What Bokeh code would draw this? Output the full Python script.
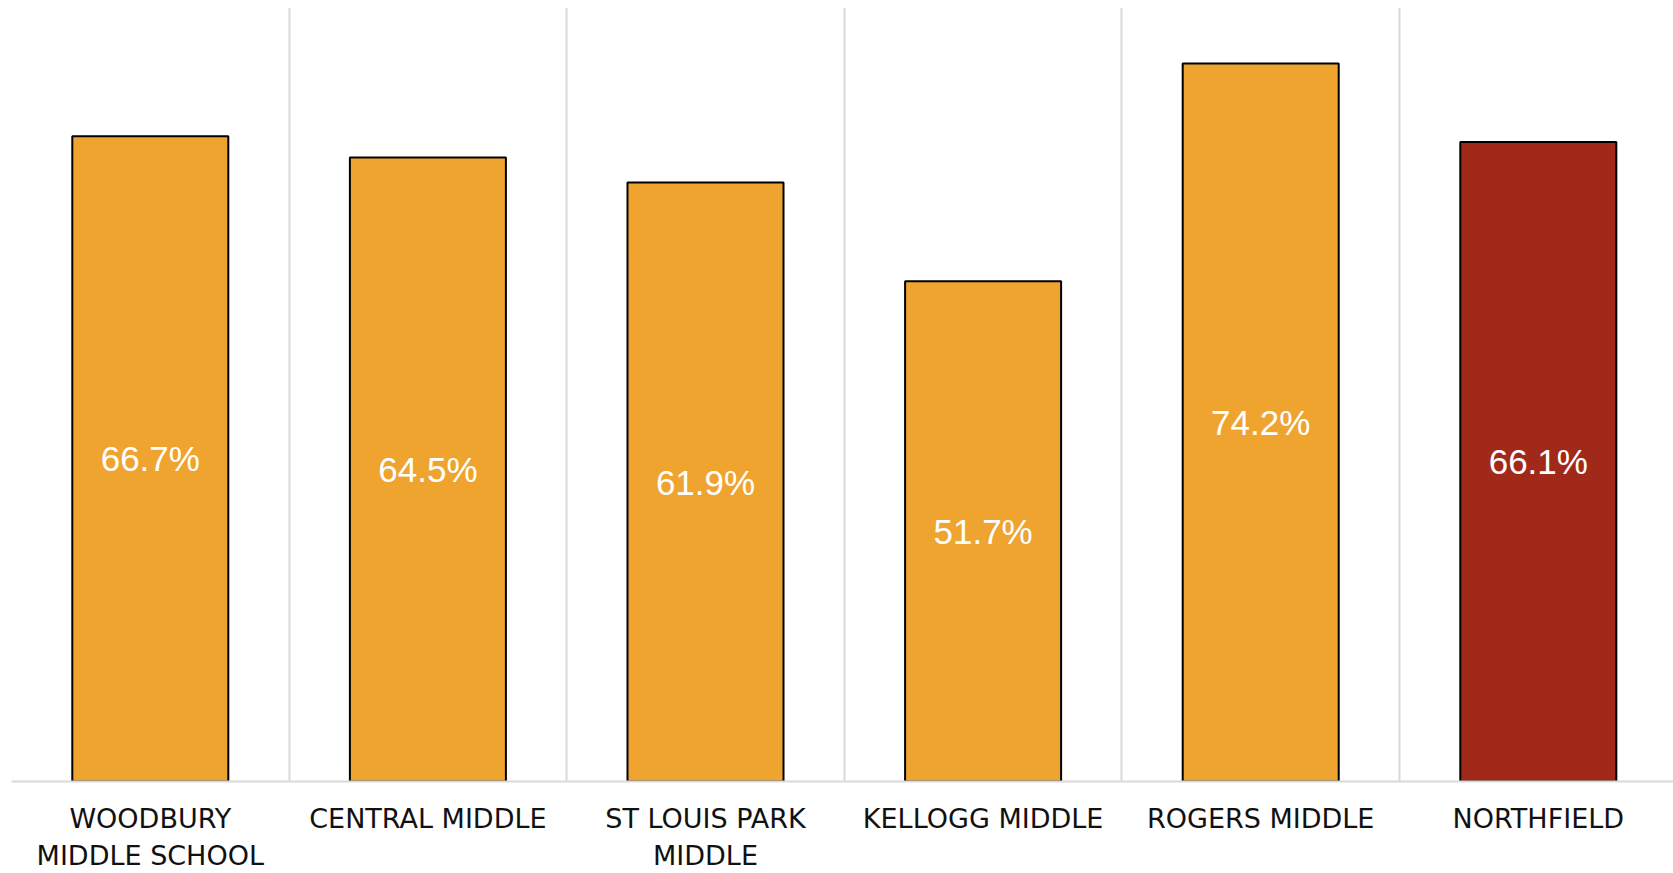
from bokeh.plotting import figure
from bokeh.models import ColumnDataSource, FixedTicker, Range1d
from bokeh.core.properties import value
from bokeh.embed import file_html
from bokeh.resources import INLINE

schools = ["WOODBURY\nMIDDLE SCHOOL", "CENTRAL MIDDLE", "ST LOUIS PARK\nMIDDLE",
           "KELLOGG MIDDLE", "ROGERS MIDDLE", "NORTHFIELD"]
rates = [66.7, 64.5, 61.9, 51.7, 74.2, 66.1]
colors = ["#F0A430", "#F0A430", "#F0A430", "#F0A430", "#F0A430", "#A1291A"]

xs = list(range(len(schools)))
src = ColumnDataSource(dict(
    x=xs, top=rates, mid=[r / 2 for r in rates], color=colors,
    label=[f"{r:.1f}%" for r in rates],
))

p = figure(width=1673, height=873, output_backend="svg", toolbar_location=None,
           x_range=Range1d(-0.5, 5.487), y_range=Range1d(0, 80),
           min_border_left=11, min_border_right=0, min_border_top=7,
           min_border_bottom=88)
p.outline_line_color = None
p.background_fill_color = "white"

p.vbar(x="x", top="top", bottom=0, width=0.562, fill_color="color",
       line_color="black", line_width=2, source=src)
p.text(x="x", y="mid", text="label", source=src, text_color="white",
       text_font=value("Liberation Sans"), text_font_size="35px",
       text_align="center", text_baseline="middle")

p.yaxis.visible = False
p.ygrid.grid_line_color = None

p.xaxis.ticker = FixedTicker(ticks=xs)
p.xaxis.major_label_overrides = {i: s for i, s in enumerate(schools)}
p.xaxis.major_tick_line_color = None
p.xaxis.minor_tick_line_color = None
p.xaxis.axis_line_color = "#D9D9D9"
p.xaxis.axis_line_width = 2
p.xaxis.major_label_text_font = "DejaVu Sans"
p.xaxis.major_label_text_font_size = "27px"
p.xaxis.major_label_text_color = "#111111"
p.xaxis.major_label_standoff = 15

p.xgrid.ticker = FixedTicker(ticks=[-0.5, 0.5, 1.5, 2.5, 3.5, 4.5, 5.5])
p.xgrid.grid_line_color = "#D9D9D9"
p.xgrid.grid_line_width = 2

open("out.html", "w").write(file_html(p, INLINE))
